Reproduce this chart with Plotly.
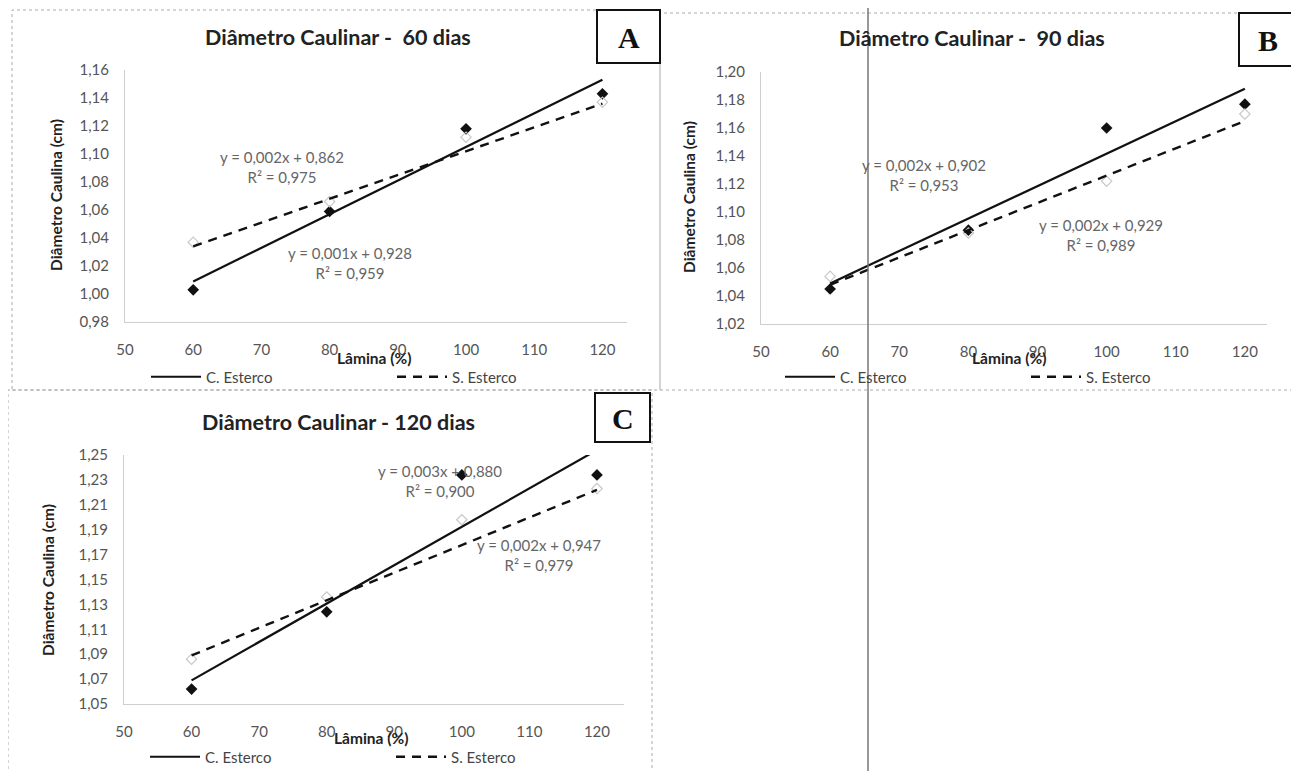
import plotly.graph_objects as go

W, H = 1299, 771

# ---------------- data ----------------
lamina = [60, 80, 100, 120]
trend_x = [60, 120]

c_esterco_60 = [1.003, 1.059, 1.118, 1.143]
s_esterco_60 = [1.037, 1.066, 1.112, 1.137]
c_trend_60 = [1.009, 1.153]
s_trend_60 = [1.034, 1.136]

c_esterco_90 = [1.045, 1.087, 1.160, 1.177]
s_esterco_90 = [1.054, 1.085, 1.122, 1.170]
c_trend_90 = [1.049, 1.188]
s_trend_90 = [1.048, 1.165]

c_esterco_120 = [1.062, 1.124, 1.234, 1.234]
s_esterco_120 = [1.086, 1.136, 1.198, 1.223]
c_trend_120 = [1.069, 1.254]
s_trend_120 = [1.089, 1.222]

titles = ["Diâmetro Caulinar -  60 dias", "Diâmetro Caulinar -  90 dias",
          "Diâmetro Caulinar - 120 dias"]
letters = ["A", "B", "C"]
x_ticks = [50, 60, 70, 80, 90, 100, 110, 120]
y_ticks_60 = [0.98, 1.00, 1.02, 1.04, 1.06, 1.08, 1.10, 1.12, 1.14, 1.16]
y_ticks_90 = [1.02, 1.04, 1.06, 1.08, 1.10, 1.12, 1.14, 1.16, 1.18, 1.20]
y_ticks_120 = [1.05, 1.07, 1.09, 1.11, 1.13, 1.15, 1.17, 1.19, 1.21, 1.23, 1.25]

eq_c = ["y = 0,001x + 0,928<br>R² = 0,959", "y = 0,002x + 0,902<br>R² = 0,953",
        "y = 0,003x + 0,880<br>R² = 0,900"]
eq_s = ["y = 0,002x + 0,862<br>R² = 0,975", "y = 0,002x + 0,929<br>R² = 0,989",
        "y = 0,002x + 0,947<br>R² = 0,979"]

series = [
    (c_esterco_60, s_esterco_60, c_trend_60, s_trend_60, y_ticks_60),
    (c_esterco_90, s_esterco_90, c_trend_90, s_trend_90, y_ticks_90),
    (c_esterco_120, s_esterco_120, c_trend_120, s_trend_120, y_ticks_120),
]

# ---------------- layout geometry (pixels in the target picture) ----------------
panels = [
    dict(x0=125, x1=627, ytop=70, ybot=322, xmax=123.6,
         title=(338, 37), box=(597, 660, 10, 63), ytitle=(56, 195), xtitle=(374, 358),
         legend=(146, 377), eq_c=(350, 263), eq_s=(282, 167)),
    dict(x0=761, x1=1267, ytop=72, ybot=324, xmax=123.2,
         title=(972, 38), box=(1239, 1297, 13, 66), ytitle=(689, 197), xtitle=(1009, 358),
         legend=(780, 377), eq_c=(924, 175), eq_s=(1101, 235)),
    dict(x0=124, x1=624, ytop=455, ybot=704, xmax=124.0,
         title=(338, 422), box=(595, 650, 393, 442), ytitle=(48, 580), xtitle=(371, 738),
         legend=(145, 757), eq_c=(440, 481), eq_s=(539, 555)),
]

OFF = 8  # page body margin in the browser

def px(x):
    return (x - OFF) / W

def py(y):
    return 1 - (y - OFF) / H

FONT = "Lato, 'Open Sans', sans-serif"

fig = go.Figure()
layout = dict(
    width=W, height=H, margin=dict(l=0, r=0, t=0, b=0, pad=0, autoexpand=False),
    paper_bgcolor="white", plot_bgcolor="white", separators=",.",
    font=dict(family=FONT, color="#333"),
    annotations=[], shapes=[],
)

for i, (p, (cs, ss, ct, st, yt)) in enumerate(zip(panels, series)):
    n = "" if i == 0 else str(i + 1)
    xa, ya = "x" + n, "y" + n
    leg = "legend" + n

    fig.add_trace(go.Scatter(x=lamina, y=cs, mode="markers", xaxis=xa, yaxis=ya,
                             marker=dict(symbol="diamond", size=9, color="#111"),
                             showlegend=False, hoverinfo="skip"))
    fig.add_trace(go.Scatter(x=lamina, y=ss, mode="markers", xaxis=xa, yaxis=ya,
                             marker=dict(symbol="diamond-open", size=8, color="#c8c8c8",
                                         line=dict(width=1.2)),
                             showlegend=False, hoverinfo="skip"))
    fig.add_trace(go.Scatter(x=trend_x, y=ct, mode="lines", xaxis=xa, yaxis=ya,
                             name="C. Esterco", legend=leg,
                             line=dict(color="#111", width=2.2)))
    fig.add_trace(go.Scatter(x=trend_x, y=st, mode="lines", xaxis=xa, yaxis=ya,
                             name="S. Esterco", legend=leg,
                             line=dict(color="#111", width=2.4, dash="9px,7px")))

    common_axis = dict(showgrid=False, zeroline=False, showline=True, linecolor="#cfcfcf",
                       linewidth=1, ticks="", automargin=False,
                       tickfont=dict(family=FONT, size=15, color="#555"))
    layout["xaxis" + n] = dict(common_axis, domain=[px(p["x0"]), px(p["x1"])],
                              range=[50, p["xmax"]], tickvals=x_ticks, anchor=ya,
                              ticklabelstandoff=14)
    layout["yaxis" + n] = dict(common_axis, domain=[py(p["ybot"]), py(p["ytop"])],
                              range=[yt[0], yt[-1]], tickvals=yt, tickformat=".2f",
                              anchor=xa, ticklabelstandoff=12)
    layout[leg] = dict(x=px(p["legend"][0]), y=py(p["legend"][1]), xanchor="left",
                       yanchor="middle", orientation="h", entrywidth=181, itemwidth=50,
                       bgcolor="rgba(0,0,0,0)", font=dict(family=FONT, size=15, color="#444"),
                       tracegroupgap=0)

    ann = layout["annotations"]

    def add_text(text, xy, size, color, family=FONT, angle=0):
        ann.append(dict(text=text, x=px(xy[0]), y=py(xy[1]), xref="paper", yref="paper",
                        xanchor="center", yanchor="middle", showarrow=False, align="center",
                        textangle=angle, font=dict(family=family, size=size, color=color)))

    add_text("<b>" + titles[i] + "</b>", p["title"], 21.5, "#222")
    bx0, bx1, by0, by1 = p["box"]
    layout["shapes"].append(dict(type="rect", xref="paper", yref="paper",
                                 x0=px(bx0), x1=px(bx1), y0=py(by1), y1=py(by0),
                                 line=dict(color="#111", width=2), fillcolor="white"))
    add_text("<b>" + letters[i] + "</b>", ((bx0 + bx1) / 2, (by0 + by1) / 2 + 1), 30, "#111",
             family="'Liberation Serif', 'DejaVu Serif', serif")
    add_text("<b>Diâmetro Caulina (cm)</b>", p["ytitle"], 15.5, "#222", angle=-90)
    add_text("<b>Lâmina (%)</b>", p["xtitle"], 15.5, "#222")
    add_text(eq_c[i], p["eq_c"], 15, "#666")
    add_text(eq_s[i], p["eq_s"], 15, "#666")

# panel borders (dotted) and scan artifact vertical line
borders = [(12, 660, 10, 390), (660, 1297, 13, 390), (8, 652, 390, 778)]
for (x0, x1, y0, y1) in borders:
    layout["shapes"].append(dict(type="rect", xref="paper", yref="paper",
                                 x0=px(x0), x1=px(x1), y0=py(y1), y1=py(y0),
                                 line=dict(color="#aaa", width=1, dash="dot"), layer="below"))
layout["shapes"].append(dict(type="line", xref="paper", yref="paper",
                             x0=px(868), x1=px(868), y0=0, y1=1,
                             line=dict(color="#777", width=1.5)))

fig.update_layout(**layout)
fig.write_html("out.html")
